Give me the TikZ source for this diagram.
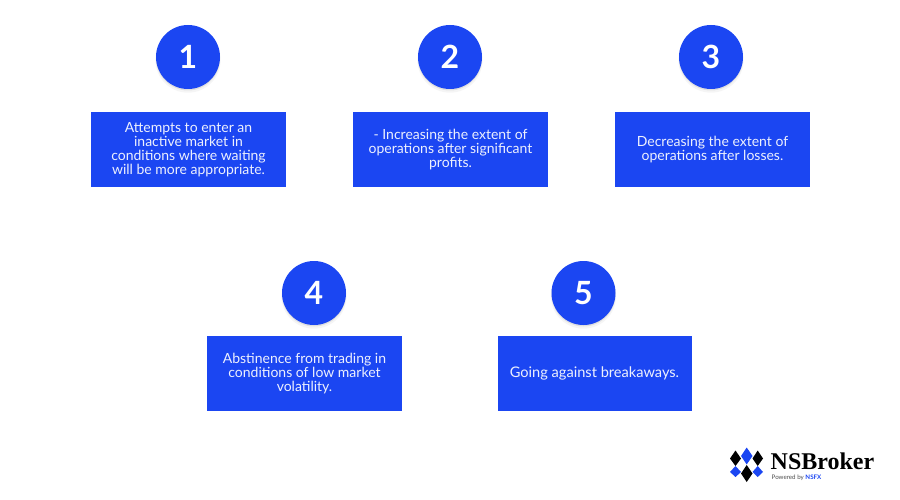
\documentclass[tikz,border=0pt]{standalone}
\usepackage{fontspec}
\setmainfont{Lato}
\newfontfamily\logofont{Liberation Serif}
\usetikzlibrary{positioning,shadows}
\definecolor{nsblue}{HTML}{1B46F2}

\begin{document}
\begin{tikzpicture}[x=1pt,y=-1pt]
\tikzstyle{number}=[circle,fill=nsblue,text=white,minimum size=64pt,inner sep=0pt,font=\fontsize{32}{32}\selectfont\bfseries,
  drop shadow={shadow xshift=0pt,shadow yshift=-3pt,opacity=.08,shadow scale=1.02},
  drop shadow={shadow xshift=0pt,shadow yshift=-1.5pt,opacity=.18}]
\tikzstyle{entity}=[fill=nsblue,text=white!92!nsblue,align=center,minimum width=195pt,minimum height=75pt,inner sep=0pt,font=\fontsize{14}{14}\selectfont]
\tikzstyle{blackdiamond}=[fill=black]
\tikzstyle{bluediamond}=[fill=nsblue]
\useasboundingbox (0,0) rectangle (900,500);

\node[number] (n1) at (188,57) {1};
\node[number] (n2) at (450,57) {2};
\node[number] (n3) at (711,57) {3};
\node[number] (n4) at (314,293) {4};
\node[number] (n5) at (583.5,293) {5};

\node[entity,below = 23pt of n1,xshift=.5pt] (t1) {Attempts to enter an\\inactive market in\\conditions where waiting\\will be more appropriate.};
\node[entity,below = 23pt of n2,xshift=.5pt] (t2) {- Increasing the extent of\\operations after significant\\profits.};
\node[entity,below = 23pt of n3,xshift=1.5pt] (t3) {Decreasing the extent of\\operations after losses.};
\node[entity,below = 11pt of n4,xshift=-9.5pt] (t4) {Abstinence from trading in\\conditions of low market\\volatility.};
\node[entity,below = 10.5pt of n5,xshift=11pt,minimum width=194pt,font=\fontsize{14.6}{14}\selectfont] (t5) {Going against breakaways.};

% logo
\fill[blackdiamond] (735.5,450.5) -- (741,458.5) -- (735.5,466) -- (730,458.5) -- cycle;
\fill[bluediamond] (746.7,447.5) -- (752.5,456) -- (746.7,464.5) -- (741,456) -- cycle;
\fill[blackdiamond] (757.7,450.5) -- (763,458.5) -- (757.7,466) -- (752.5,458.5) -- cycle;
\fill[bluediamond] (735.5,466) -- (741,472) -- (735.5,477) -- (730,472) -- cycle;
\fill[blackdiamond] (746.7,465) -- (752.5,473.5) -- (746.7,482) -- (741,473.5) -- cycle;
\fill[bluediamond] (757.7,466) -- (763,472) -- (757.7,477) -- (752.5,472) -- cycle;
\node[anchor=west,inner sep=0pt,font=\logofont\fontsize{24}{24}\selectfont\bfseries] (brand) at (770.5,461) {NSBroker};
\node[inner sep=0pt,font=\fontsize{6.2}{6.2}\selectfont,text=black!70,below right = 5pt and 1pt of brand.south west] (power) {Powered by {\bfseries\color{nsblue}NSFX}};
\end{tikzpicture}
\end{document}
